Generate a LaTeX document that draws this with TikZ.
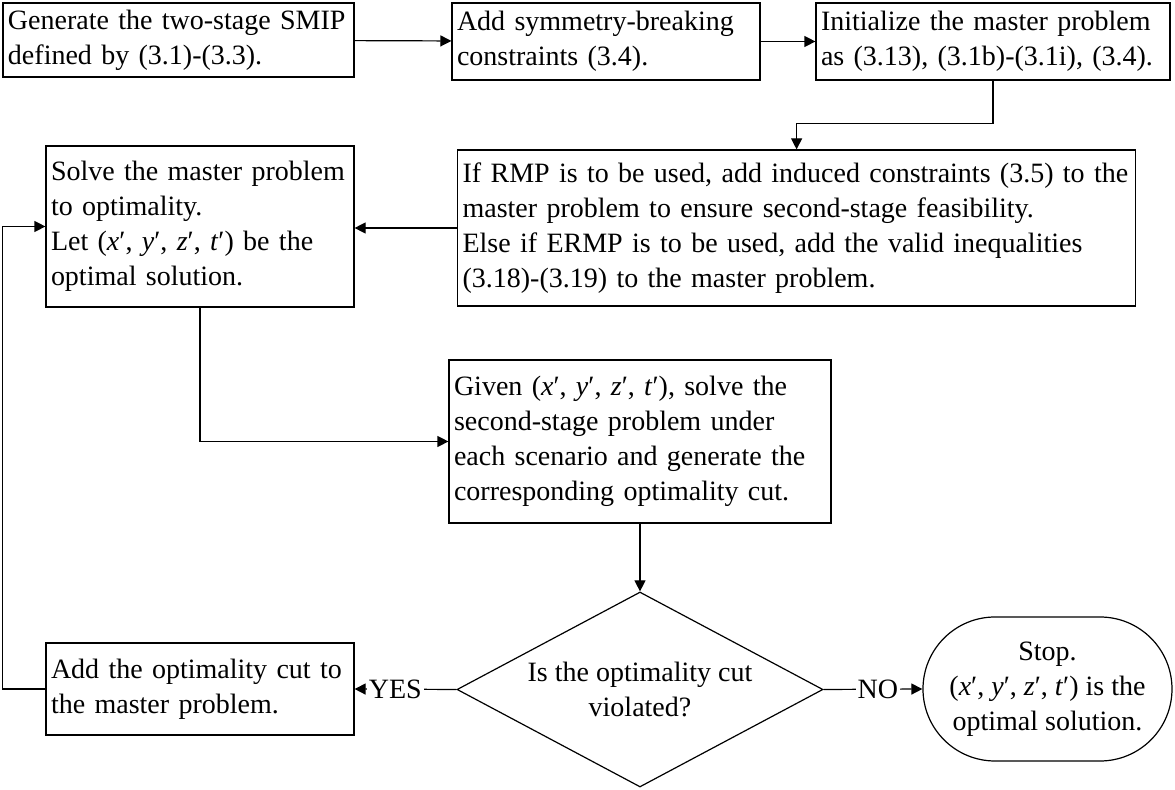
\documentclass[tikz,border=0pt]{standalone}
\usepackage{fontspec}
\setmainfont{Liberation Serif}
\usetikzlibrary{shapes,arrows.meta,positioning,calc}

\newcommand{\solpt}{(\textit{x}′, \textit{y}′, \textit{z}′, \textit{t}′)}

\tikzset{
  stepbox/.style={draw, rectangle, align=left, inner xsep=2.5pt, inner ysep=2pt,
    font=\fontsize{14}{17.5}\selectfont},
  decision/.style={draw, diamond, aspect=1.88, align=center, inner sep=0pt,
    minimum width=183pt, minimum height=97.5pt, font=\fontsize{14}{17.5}\selectfont},
  stopnode/.style={draw, rounded rectangle, align=center, inner sep=0pt,
    minimum width=124.5pt, minimum height=72pt, font=\fontsize{14}{17.5}\selectfont},
  flow/.style={draw, -{Triangle[length=5.5pt, width=5.5pt]}},
  answer/.style={fill=white, inner sep=1pt, font=\fontsize{14}{17.5}\selectfont}
}

\begin{document}
\begin{tikzpicture}[x=0.5pt, y=-0.5pt, line width=0.6pt]
\useasboundingbox (0,0) rectangle (1175,790);

% first row
\node[stepbox, minimum width=175.5pt, minimum height=37pt, text width=170.5pt] (generate) at (178.5,40) {
Generate the two-stage SMIP\\
defined by (3.1)-(3.3).
};
\node[stepbox, minimum width=154pt, minimum height=38.5pt, text width=149pt] (symmetry) at (606,41.5) {
Add symmetry-breaking\\
constraints (3.4).
};
\node[stepbox, minimum width=177pt, minimum height=38.5pt, text width=172pt] (init) at (993,41.5) {
Initialize the master problem\\
as (3.13), (3.1b)-(3.1i), (3.4).
};

% second row
\node[stepbox, anchor=west, minimum height=78pt, text width=334pt] (induce) at (457,228) {
If RMP is to be used, add induced constraints (3.5) to the\\
master problem to ensure second-stage feasibility.\\
Else if ERMP is to be used, add the valid inequalities\\
(3.18)-(3.19) to the master problem.
};
\node[stepbox, minimum width=154pt, minimum height=80.5pt, text width=149pt] (master) at (200,226.5) {
Solve the master problem\\
to optimality.\\
Let \solpt{} be the\\
optimal solution.
};

% subproblem
\node[stepbox, minimum width=191pt, minimum height=81.5pt, text width=186pt] (subprob) at (640,441.5) {
Given \solpt, solve the\\
second-stage problem under\\
each scenario and generate the\\
corresponding optimality cut.
};

% last row
\node[decision] (check) at (640,689.5) {Is the optimality cut\\ violated?};
\node[stepbox, minimum width=154pt, minimum height=46pt, text width=149pt] (addcut) at (200,689) {
Add the optimality cut to\\
the master problem.
};
\node[stopnode] (stop) at (1047.5,689) {Stop.\\ \solpt{} is the\\ optimal solution.};

% connectors
\draw[flow] (generate) -- (symmetry);
\draw[flow] (symmetry) -- (init);
\draw[flow] (init.south) -- ++(0,43) -| (induce.north);
\draw[flow] (induce.west) -- (induce.west -| master.east);
\draw[flow] (master.south) |- (subprob.west);
\draw[flow] (subprob.south) -- (check.north);
\draw[flow] (check.west) -- node[answer, pos=0.6] {YES} (addcut.east);
\draw[flow] (check.east) -- node[answer, pos=0.55] {NO} (stop.west);
\draw[flow] (addcut.west) -- ++(-43,0) |- (master.west);
\end{tikzpicture}
\end{document}
